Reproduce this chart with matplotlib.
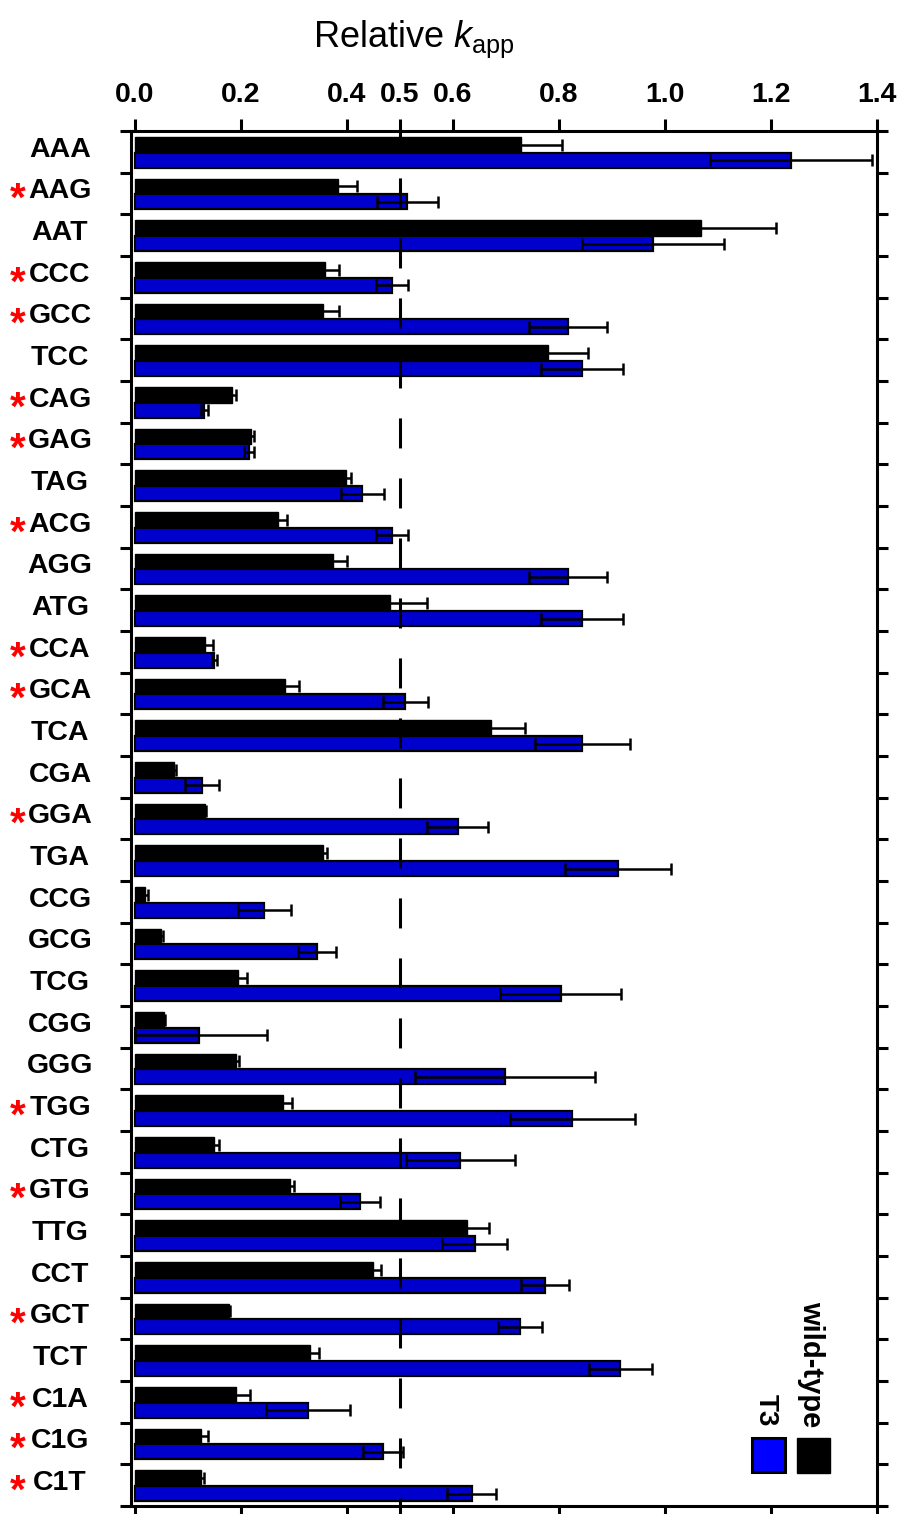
import matplotlib
matplotlib.use('Agg')
import matplotlib.pyplot as plt
import matplotlib.transforms as mtransforms
from matplotlib.patches import Rectangle
import numpy as np

plt.rcParams['font.family'] = ['Liberation Sans', 'DejaVu Sans']
plt.rcParams['mathtext.fontset'] = 'custom'
plt.rcParams['mathtext.rm'] = 'Liberation Sans'
plt.rcParams['mathtext.it'] = 'Liberation Sans:italic'
plt.rcParams['lines.scale_dashes'] = False

# Data
codons = ['AAA', 'AAG', 'AAT', 'CCC', 'GCC', 'TCC', 'CAG', 'GAG', 'TAG', 'ACG', 'AGG',
          'ATG', 'CCA', 'GCA', 'TCA', 'CGA', 'GGA', 'TGA', 'CCG', 'GCG', 'TCG', 'CGG',
          'GGG', 'TGG', 'CTG', 'GTG', 'TTG', 'CCT', 'GCT', 'TCT', 'C1A', 'C1G', 'C1T']
starred = ['AAG', 'CCC', 'GCC', 'CAG', 'GAG', 'ACG', 'CCA', 'GCA', 'GGA', 'TGG',
           'GTG', 'GCT', 'C1A', 'C1G', 'C1T']

wt = [0.728, 0.383, 1.068, 0.358, 0.355, 0.779, 0.184, 0.218, 0.398, 0.270, 0.374,
      0.482, 0.133, 0.283, 0.671, 0.074, 0.132, 0.355, 0.019, 0.050, 0.194, 0.055,
      0.190, 0.279, 0.150, 0.292, 0.627, 0.450, 0.177, 0.330, 0.191, 0.125, 0.125]
wt_err = [0.078, 0.036, 0.141, 0.027, 0.030, 0.075, 0.007, 0.007, 0.010, 0.016, 0.026,
          0.069, 0.015, 0.026, 0.064, 0.003, 0.002, 0.007, 0.006, 0.002, 0.017, 0.002,
          0.006, 0.017, 0.008, 0.008, 0.041, 0.014, 0.002, 0.017, 0.026, 0.012, 0.005]
t3 = [1.237, 0.514, 0.977, 0.485, 0.817, 0.844, 0.131, 0.215, 0.429, 0.485, 0.817,
      0.844, 0.150, 0.510, 0.844, 0.126, 0.609, 0.912, 0.244, 0.344, 0.803, 0.121,
      0.698, 0.825, 0.614, 0.425, 0.641, 0.773, 0.726, 0.916, 0.327, 0.468, 0.635]
t3_err = [0.153, 0.057, 0.134, 0.031, 0.074, 0.077, 0.007, 0.009, 0.040, 0.031, 0.074,
          0.077, 0.004, 0.042, 0.090, 0.032, 0.058, 0.100, 0.050, 0.036, 0.114, 0.128,
          0.170, 0.118, 0.103, 0.038, 0.061, 0.045, 0.042, 0.060, 0.079, 0.038, 0.047]

xticks = [0.0, 0.2, 0.4, 0.5, 0.6, 0.8, 1.0, 1.2, 1.4]

blue = '#0000cc'
W, H = 904, 1514

fig = plt.figure(figsize=(W / 100, H / 100), dpi=100)
ax = fig.add_axes([131 / W, 8 / H, (877 - 131) / W, (1506 - 131) / H])

y = np.arange(len(codons))
wt = np.array(wt)
t3 = np.array(t3)
wt_err = np.array(wt_err)
t3_err = np.array(t3_err)

# bars: wild-type on top, T3 below within each row
ax.barh(y - 0.17, wt, height=0.38, color='black', edgecolor='black', linewidth=1.0, zorder=2)
ax.barh(y + 0.2, t3, height=0.36, color=blue, edgecolor='black', linewidth=1.6, zorder=2)

# error bars (lower side clipped at zero)
ax.errorbar(wt, y - 0.17, xerr=[np.minimum(wt_err, wt), wt_err], fmt='none',
            ecolor='black', elinewidth=1.8, capsize=4.6, capthick=1.8, zorder=3)
ax.errorbar(t3, y + 0.2, xerr=[np.minimum(t3_err, t3), t3_err], fmt='none',
            ecolor='black', elinewidth=1.8, capsize=4.6, capthick=1.8, zorder=3)

# dashed reference line at 0.5
ax.plot([0.5, 0.5], [len(codons) - 0.5, -0.5], color='black', lw=2.2,
        linestyle=(15.8, (21.6, 21.6)), zorder=4)

ax.set_xlim(-0.0075, 1.4)
ax.set_ylim(len(codons) - 0.5, -0.5)

ax.set_xticks(xticks)
ax.set_xticklabels([f'{t:.1f}' for t in xticks], fontsize=20.5, fontweight='bold')
ax.tick_params(axis='x', top=True, bottom=True, labeltop=True, labelbottom=False,
               direction='out', length=8.6, width=2.2, pad=8)
ax.set_yticks(np.arange(len(codons) + 1) - 0.5)
ax.set_yticklabels([])
ax.tick_params(axis='y', left=True, right=True, direction='out', length=8, width=2.2)
for s in ax.spines.values():
    s.set_linewidth(2.2)

# row labels and red asterisks
trans = mtransforms.blended_transform_factory(fig.transFigure, ax.transData)
for i, c in enumerate(codons):
    ax.text(60 / W, i - 0.05, c, transform=trans, ha='center', va='center',
            fontsize=20.5, fontweight='bold')
    if c in starred:
        ax.text(18 / W, i + 0.16, '*', transform=trans, ha='center', va='center',
                fontsize=29, fontweight='bold', color='red')

fig.text(313 / W, 1 - 47 / H, r'Relative $k_{\mathrm{app}}$', fontsize=26,
         ha='left', va='baseline')

# legend drawn by hand: squares with rotated labels
fig.patches.append(Rectangle((752 / W, (H - 1472) / H), 33 / W, 34 / H,
                             transform=fig.transFigure, facecolor='#0000ff',
                             edgecolor='black', linewidth=2.2))
fig.patches.append(Rectangle((797 / W, (H - 1473) / H), 33 / W, 35 / H,
                             transform=fig.transFigure, facecolor='black',
                             edgecolor='black', linewidth=1.0))
fig.text(766 / W, (H - 1426) / H, 'T3', rotation=270, ha='center', va='bottom',
         fontsize=20, fontweight='bold')
fig.text(811 / W, (H - 1427) / H, 'wild-type', rotation=270, ha='center', va='bottom',
         fontsize=21, fontweight='bold')

fig.savefig('out.png', dpi=100)
